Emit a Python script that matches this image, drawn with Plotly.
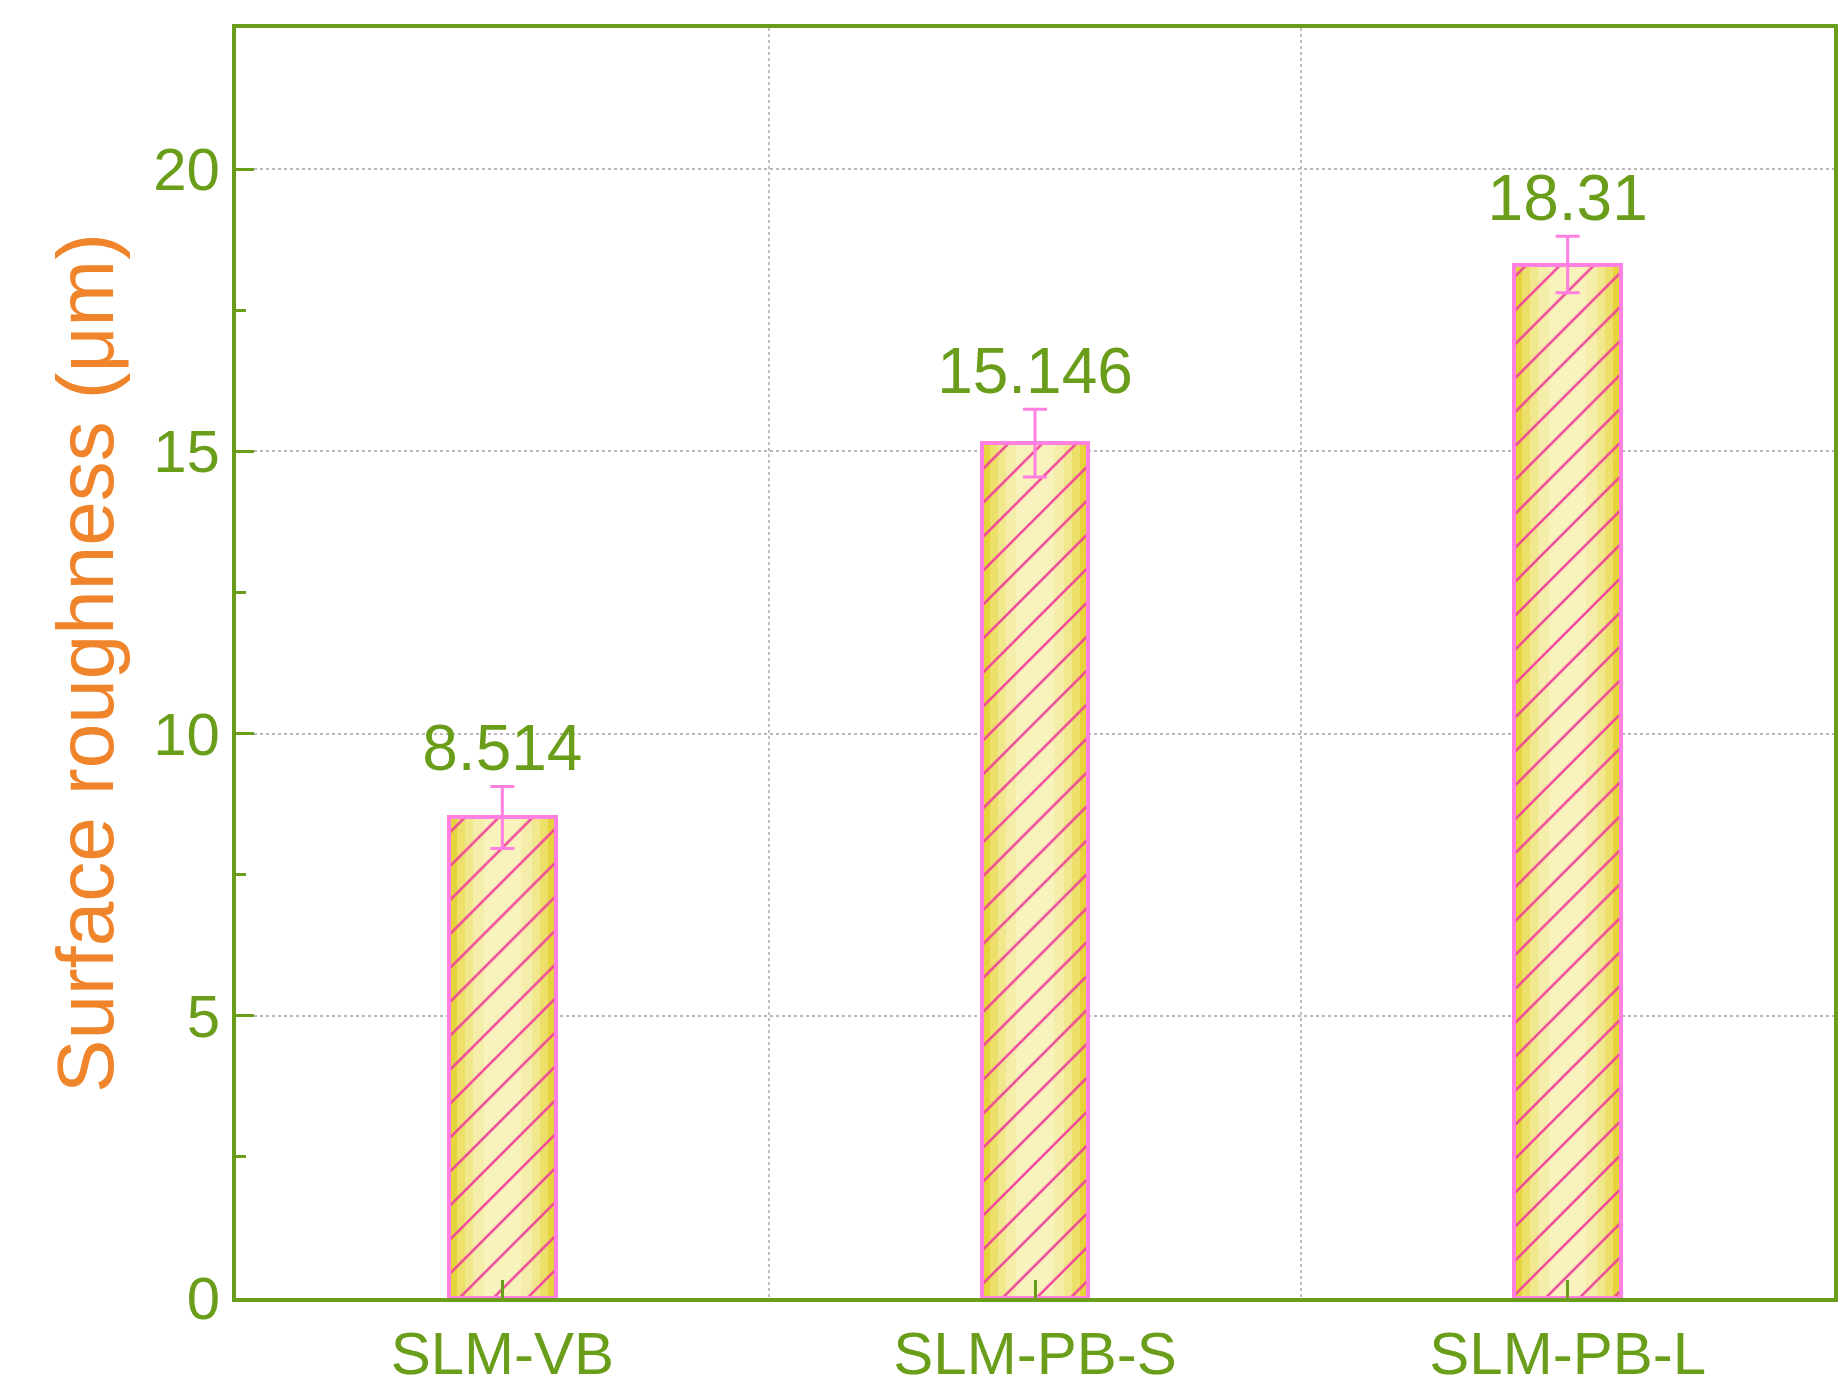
import plotly.graph_objects as go

categories = ["SLM-VB", "SLM-PB-S", "SLM-PB-L"]
values = [8.514, 15.146, 18.31]
errors = [0.55, 0.6, 0.5]
labels = ["8.514", "15.146", "18.31"]

xpos = list(range(len(categories)))
green = "#6a9e1a"
pink = "#ff80e0"
fig = go.Figure()
layers = [(0.2, "#e6d43c"), (0.17, "#ecdf6a"), (0.14, "#f1e88e"), (0.11, "#f5eeaa"), (0.07, "#f8f2bc")]
for w, c in layers:
    fig.add_trace(go.Bar(x=xpos, y=values, width=w, marker=dict(color=c, line=dict(width=0)),
                         showlegend=False, hoverinfo="skip"))
fig.add_trace(go.Bar(x=xpos, y=values, width=0.2,
                     marker=dict(color="rgba(0,0,0,0)", line=dict(color=pink, width=4),
                                 pattern=dict(shape="/", fgcolor="#f0409a", bgcolor="rgba(0,0,0,0)",
                                              size=24, solidity=0.1, fillmode="replace")),
                     error_y=dict(type="data", array=errors, color=pink, thickness=3, width=12),
                     showlegend=False))
fig.add_trace(go.Scatter(x=xpos, y=[v + e for v, e in zip(values, errors)], mode="text",
                         text=labels, textposition="top center",
                         textfont=dict(size=64, color=green, family="Liberation Sans"), showlegend=False))

axis_common = dict(showline=True, linewidth=4, linecolor=green, mirror=True,
                   ticks="inside", tickcolor=green, tickwidth=3, ticklen=18,
                   tickfont=dict(size=60, color=green, family="Liberation Sans"),
                   zeroline=False)
fig.update_layout(
    barmode="overlay", bargap=0,
    width=1848, height=1391, plot_bgcolor="white", paper_bgcolor="white",
    margin=dict(l=228, r=22, t=20, b=84),
    xaxis=dict(range=[-0.5, 2.5], tickvals=xpos, ticktext=categories, showgrid=False,
               minor=dict(tickvals=[0.5, 1.5], ticks="", showgrid=True, gridcolor="#c0c0c0", griddash="dot", gridwidth=1.5),
               **axis_common),
    yaxis=dict(range=[0, 22.5], tickvals=[0, 5, 10, 15, 20], showgrid=True, gridcolor="#b8b8b8", griddash="dot", gridwidth=2,
               minor=dict(tickvals=[2.5, 7.5, 12.5, 17.5], ticks="inside", ticklen=10, tickcolor=green, tickwidth=3, showgrid=False),
               title=dict(text="Surface roughness (μm)", font=dict(size=80, color="#f0842a", family="Liberation Sans"), standoff=14),
               **axis_common),
)
fig.write_html("out.html")
